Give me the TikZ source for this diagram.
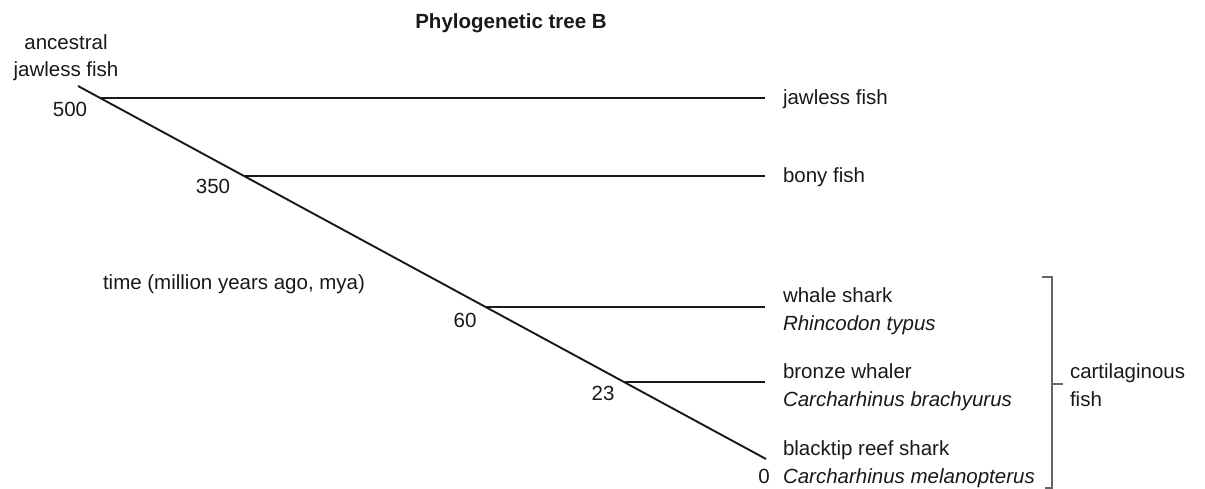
\documentclass[tikz,border=0pt]{standalone}
\usepackage{fontspec}
\setmainfont{Liberation Sans}
\begin{document}
\begin{tikzpicture}[x=1pt,y=-1pt,
  every node/.style={inner sep=0pt,outer sep=0pt,font=\fontsize{20.5}{27.5}\selectfont,text=black!90},
  tree/.style={line width=1.9pt,black!90},
  brk/.style={line width=1.1pt,black!60},
  lab/.style={anchor=base west,align=left},
  num/.style={anchor=base}]
\useasboundingbox (0,0) rectangle (1205,489);
% title
\node[num,font=\fontsize{20.5}{24}\selectfont\bfseries] (title) at (511,29) {Phylogenetic tree B};
% tree coordinates
\coordinate (root) at (78,86);
\coordinate (tip) at (766,459);
\coordinate (b500) at (100,98);
\coordinate (b350) at (244,176);
\coordinate (b60) at (486,307);
\coordinate (b23) at (624,382);
\coordinate (e1) at (765,98);
\coordinate (e2) at (765,176);
\coordinate (e3) at (765,307);
\coordinate (e4) at (765,382);
\draw[tree] (root) -- (tip);
\draw[tree] (b500) -- (e1);
\draw[tree] (b350) -- (e2);
\draw[tree] (b60) -- (e3);
\draw[tree] (b23) -- (e4);
% labels
\node[num,align=center] (anc) at (66,77) {ancestral\\jawless fish};
\node[num] (n500) at (70,117) {500};
\node[num] (n350) at (213,194) {350};
\node[num] (n60) at (465,327) {60};
\node[num] (n23) at (603,400) {23};
\node[num] (n0) at (764,483) {0};
\node[anchor=base west] (time) at (103,290) {time (million years ago, mya)};
\node[lab] (jf) at (783,105) {jawless fish};
\node[lab] (bf) at (783,183) {bony fish};
\node[lab] (ws) at (783,330) {whale shark\\\itshape Rhincodon typus};
\node[lab] (bw) at (783,406) {bronze whaler\\\itshape Carcharhinus brachyurus};
\node[lab] (bt) at (783,483) {blacktip reef shark\\\itshape Carcharhinus melanopterus};
% bracket
\coordinate (bt0) at (1042,277);
\coordinate (bt1) at (1052,277);
\coordinate (bb1) at (1052,488);
\coordinate (bb0) at (1045,488);
\coordinate (bm0) at (1052,384);
\coordinate (bm1) at (1063,384);
\draw[brk] (bt0) -- (bt1) -- (bb1) -- (bb0);
\draw[brk] (bm0) -- (bm1);
\node[lab] (cf) at (1070,406) {cartilaginous\\fish};
\end{tikzpicture}
\end{document}
